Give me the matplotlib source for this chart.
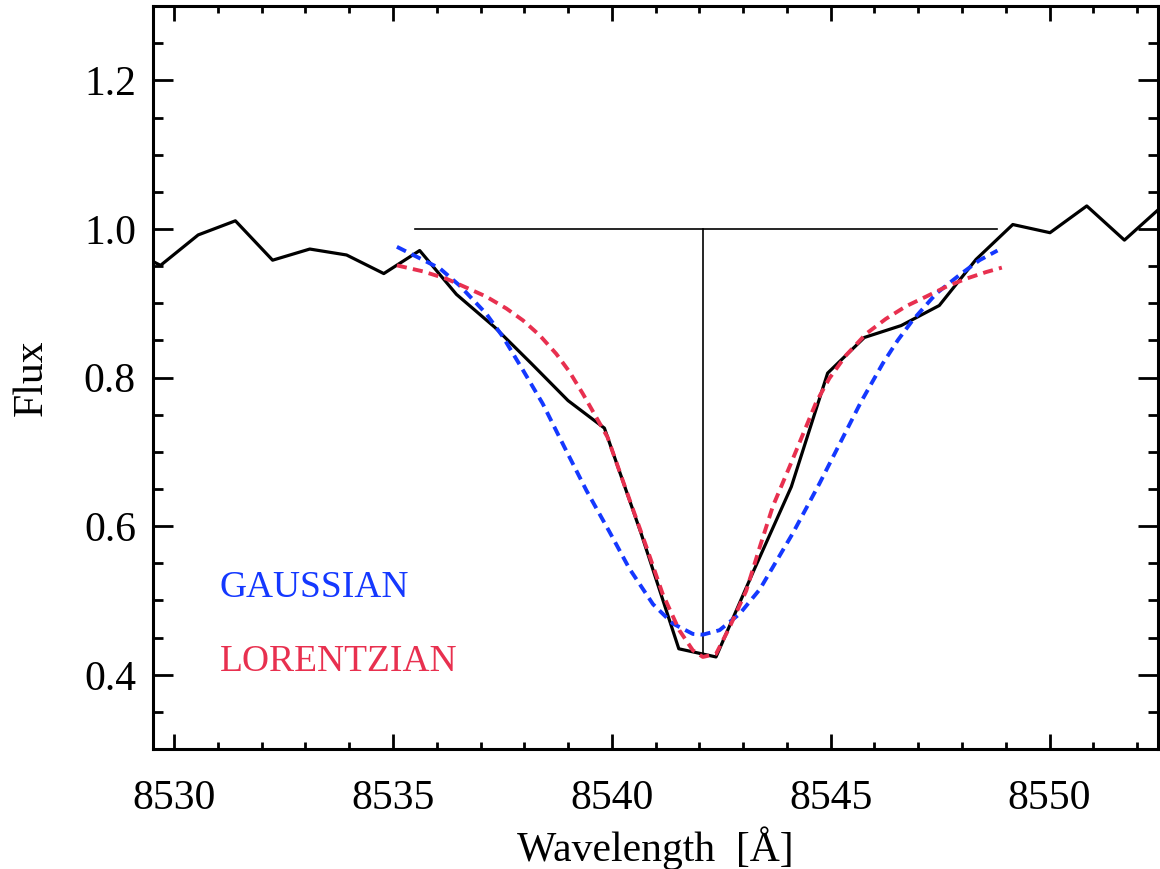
import numpy as np
import matplotlib.pyplot as plt
from matplotlib.ticker import MultipleLocator

plt.rcParams['font.family'] = ['Liberation Serif', 'DejaVu Serif']

# observed spectrum around the Ca II 8542 line
wave = [8528.84, 8529.69, 8530.55, 8531.40, 8532.25, 8533.10, 8533.94, 8534.79,
        8535.61, 8536.45, 8537.32, 8538.16, 8539.00, 8539.83, 8540.67, 8541.53,
        8542.38, 8543.24, 8544.10, 8544.93, 8545.77, 8546.61, 8547.48, 8548.32,
        8549.16, 8550.01, 8550.85, 8551.71, 8552.56]
flux = [0.977, 0.951, 0.992, 1.011, 0.958, 0.973, 0.965, 0.940,
        0.971, 0.912, 0.868, 0.819, 0.769, 0.732, 0.590, 0.435,
        0.424, 0.540, 0.653, 0.806, 0.854, 0.870, 0.897, 0.959,
        1.006, 0.995, 1.031, 0.985, 1.030]

# gaussian fit
gauss_wave = [8535.09, 8536.07, 8536.52, 8537.13, 8537.51, 8537.97, 8538.42, 8538.92,
              8539.42, 8539.95, 8540.40, 8540.94, 8541.39, 8541.85, 8542.08, 8542.46,
              8542.92, 8543.38, 8543.52, 8544.13, 8544.74, 8545.69, 8546.19, 8546.53,
              8546.87, 8547.41, 8547.94, 8548.40, 8548.81]
gauss_flux = [0.976, 0.947, 0.924, 0.886, 0.855, 0.810, 0.765, 0.706,
              0.648, 0.592, 0.543, 0.495, 0.469, 0.455, 0.454, 0.460,
              0.482, 0.515, 0.529, 0.590, 0.657, 0.767, 0.819, 0.850,
              0.877, 0.913, 0.938, 0.958, 0.971]

# lorentzian fit
lorentz_wave = [8535.09, 8535.68, 8536.22, 8536.68, 8537.13, 8537.59, 8537.97, 8538.35,
                8538.73, 8539.03, 8539.34, 8539.64, 8539.90, 8540.33, 8540.79, 8541.16,
                8541.54, 8541.85, 8542.08, 8542.38, 8542.69, 8543.07, 8543.38, 8543.68,
                8544.06, 8544.67, 8544.97, 8545.35, 8545.81, 8546.26, 8546.72, 8547.18,
                8547.63, 8548.09, 8548.55, 8548.91]
lorentz_flux = [0.951, 0.943, 0.933, 0.921, 0.909, 0.893, 0.877, 0.857,
                0.832, 0.808, 0.778, 0.747, 0.720, 0.648, 0.572, 0.509,
                0.460, 0.433, 0.424, 0.428, 0.464, 0.513, 0.572, 0.627,
                0.680, 0.767, 0.799, 0.830, 0.859, 0.879, 0.896, 0.909,
                0.922, 0.933, 0.942, 0.948]

# continuum level and line centre
cont_range = [8535.50, 8548.79]
cont_level = 1.0
line_center = 8542.08
line_depth = 0.425

blue = '#1438ff'
red = '#e8304f'

fig = plt.figure(figsize=(11.6, 8.69), dpi=100)
ax = fig.add_axes([0.1316, 0.138, 0.8664, 0.855])

ax.plot(cont_range, [cont_level, cont_level], color='black', lw=1.2)
ax.plot([line_center, line_center], [cont_level, line_depth], color='black', lw=1.2)
ax.plot(wave, flux, color='black', lw=2.3)
ax.plot(gauss_wave, gauss_flux, color=blue, lw=2.8, dashes=(2.6, 1.6))
ax.plot(lorentz_wave, lorentz_flux, color=red, lw=2.8, dashes=(2.6, 1.6))

ax.text(8531.04, 0.517, 'GAUSSIAN', color=blue, fontsize=27, va='center')
ax.text(8531.04, 0.418, 'LORENTZIAN', color=red, fontsize=27, va='center')

ax.set_xlim(8529.51, 8552.47)
ax.set_ylim(0.3, 1.3)

ax.xaxis.set_major_locator(MultipleLocator(5))
ax.xaxis.set_minor_locator(MultipleLocator(1))
ax.yaxis.set_major_locator(MultipleLocator(0.2))
ax.yaxis.set_minor_locator(MultipleLocator(0.05))
ax.yaxis.set_major_formatter(plt.FormatStrFormatter('%.1f'))

ax.tick_params(axis='both', which='both', direction='in', top=True, right=True, width=2.0)
ax.tick_params(axis='x', which='major', length=10.6, pad=22, labelsize=30)
ax.tick_params(axis='x', which='minor', length=5.3)
ax.tick_params(axis='y', which='major', length=14.4, pad=12, labelsize=30)
ax.tick_params(axis='y', which='minor', length=7.2)
for s in ax.spines.values():
    s.set_linewidth(2.2)

ax.set_xlabel('Wavelength  [Å]', fontsize=30, labelpad=6)
ax.set_ylabel('Flux', fontsize=30, labelpad=24)

fig.savefig('out.png', dpi=100)
